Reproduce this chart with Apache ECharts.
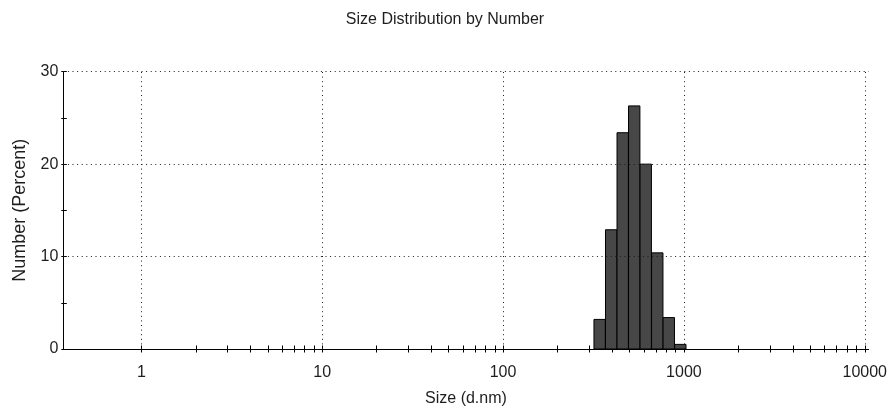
<!DOCTYPE html>
<html>
<head>
<meta charset="utf-8">
<title>Size Distribution by Number</title>
<script src="https://cdn.jsdelivr.net/npm/echarts@6/dist/echarts.min.js"></script>
<style>
  html, body { margin: 0; padding: 0; background: #fff; }
  #chart { width: 890px; height: 416px; }
</style>
</head>
<body>
<div id="chart"></div>
<script>
// Size classes (d.nm) that carry a non-zero number fraction
const sizeClasses = [342.0, 396.1, 458.7, 531.2, 615.1, 712.4, 825.0, 955.4];
// Number distribution (percent) per size class
const numberPercent = [3.2, 12.9, 23.4, 26.3, 20.0, 10.4, 3.4, 0.5];
// Decade labels on the size axis
const sizeMajorTicks = [1, 10, 100, 1000, 10000];
// Percent axis labels and grid levels
const percentLabels = [0, 10, 20, 30];
const percentGridLevels = [10, 20, 30];

// Size axis is plotted on log10(d): full instrument range 0.4 .. 10000 nm in 70 classes
const CLASS_STEP = Math.log10(10000 / 0.4) / 70;
const X_MIN = -0.4317;
const X_MAX = 4.0215;
const Y_MIN = 0;
const Y_MAX = 30;

const lg = v => Math.log10(v);

// minor ticks 1..9 in every decade up to 10000
const sizeAllTicks = [];
for (let d = 0; d < 4; d++) {
  for (let m = 1; m <= 9; m++) sizeAllTicks.push(lg(m * Math.pow(10, d)));
}
sizeAllTicks.push(lg(10000));
const majorLog = sizeMajorTicks.map(lg);

const barData = sizeClasses.map((s, i) => [lg(s), numberPercent[i]]);

const FONT = '"Liberation Sans", Arial, sans-serif';
const TXT = '#1e1e1e';

const dotted = { type: [1, 3.6], color: '#1a1a1a', width: 1 };

const chart = echarts.init(document.getElementById('chart'), null, { renderer: 'canvas' });

chart.setOption({
  animation: false,
  backgroundColor: '#ffffff',
  title: {
    text: 'Size Distribution by Number',
    left: 'center',
    top: 7,
    textStyle: { fontFamily: FONT, fontSize: 16, fontWeight: 'normal', color: TXT }
  },
  grid: { left: 63.3, right: 18, top: 71.7, bottom: 67, containLabel: false },
  xAxis: [
    {
      type: 'value',
      min: X_MIN,
      max: X_MAX,
      position: 'bottom',
      name: 'Size (d.nm)',
      nameLocation: 'middle',
      nameGap: 42,
      nameTextStyle: { fontFamily: FONT, fontSize: 16, color: TXT },
      axisLine: { show: true, onZero: false, lineStyle: { color: '#000', width: 1 } },
      axisTick: { show: true, inside: false, length: 3.5, customValues: sizeAllTicks,
                  lineStyle: { color: '#000', width: 1 } },
      axisLabel: {
        show: true,
        customValues: majorLog,
        margin: 16,
        fontFamily: FONT, fontSize: 16, color: TXT,
        formatter: v => String(Math.round(Math.pow(10, v)))
      },
      splitLine: { show: false }
    },
    {
      type: 'value',
      min: X_MIN,
      max: X_MAX,
      position: 'bottom',
      axisLine: { show: false, onZero: false },
      axisTick: { show: true, inside: true, length: 3.5, customValues: sizeAllTicks,
                  lineStyle: { color: '#000', width: 1 } },
      axisLabel: { show: false },
      splitLine: { show: false }
    }
  ],
  yAxis: [
    {
      type: 'value',
      min: Y_MIN,
      max: Y_MAX,
      interval: 5,
      position: 'left',
      name: 'Number (Percent)',
      nameLocation: 'middle',
      nameGap: 34,
      nameTextStyle: { fontFamily: FONT, fontSize: 18, color: TXT },
      axisLine: { show: true, onZero: false, lineStyle: { color: '#000', width: 1 } },
      axisTick: { show: true, inside: false, length: 2, lineStyle: { color: '#000', width: 1 } },
      axisLabel: {
        margin: 5,
        fontFamily: FONT, fontSize: 16, color: TXT,
        formatter: v => (percentLabels.indexOf(v) >= 0 ? String(v) : '')
      },
      splitLine: { show: false }
    },
    {
      type: 'value',
      min: Y_MIN,
      max: Y_MAX,
      interval: 5,
      position: 'left',
      axisLine: { show: false, onZero: false },
      axisTick: { show: true, inside: true, length: 3.5, lineStyle: { color: '#000', width: 1 } },
      axisLabel: { show: false },
      splitLine: { show: false }
    }
  ],
  series: [
    {
      // dotted reference grid behind the bars
      type: 'line',
      xAxisIndex: 0,
      yAxisIndex: 0,
      data: [],
      z: 1,
      silent: true,
      markLine: {
        silent: true,
        symbol: ['none', 'none'],
        label: { show: false },
        lineStyle: dotted,
        animation: false,
        data: majorLog.map(v => ({ xAxis: v }))
          .concat(percentGridLevels.map(v => ({ yAxis: v })))
      }
    },
    {
      // histogram bars spanning one size class on the log axis
      type: 'custom',
      xAxisIndex: 0,
      yAxisIndex: 0,
      z: 3,
      data: barData,
      renderItem: function (params, api) {
        const x = api.value(0);
        const y = api.value(1);
        const half = CLASS_STEP / 2;
        const p0 = api.coord([x - half, y]);
        const p1 = api.coord([x + half, 0]);
        return {
          type: 'rect',
          shape: { x: p0[0], y: p0[1], width: p1[0] - p0[0], height: p1[1] - p0[1] },
          style: { fill: '#474747', stroke: '#000', lineWidth: 1 }
        };
      }
    }
  ]
});
</script>
</body>
</html>
